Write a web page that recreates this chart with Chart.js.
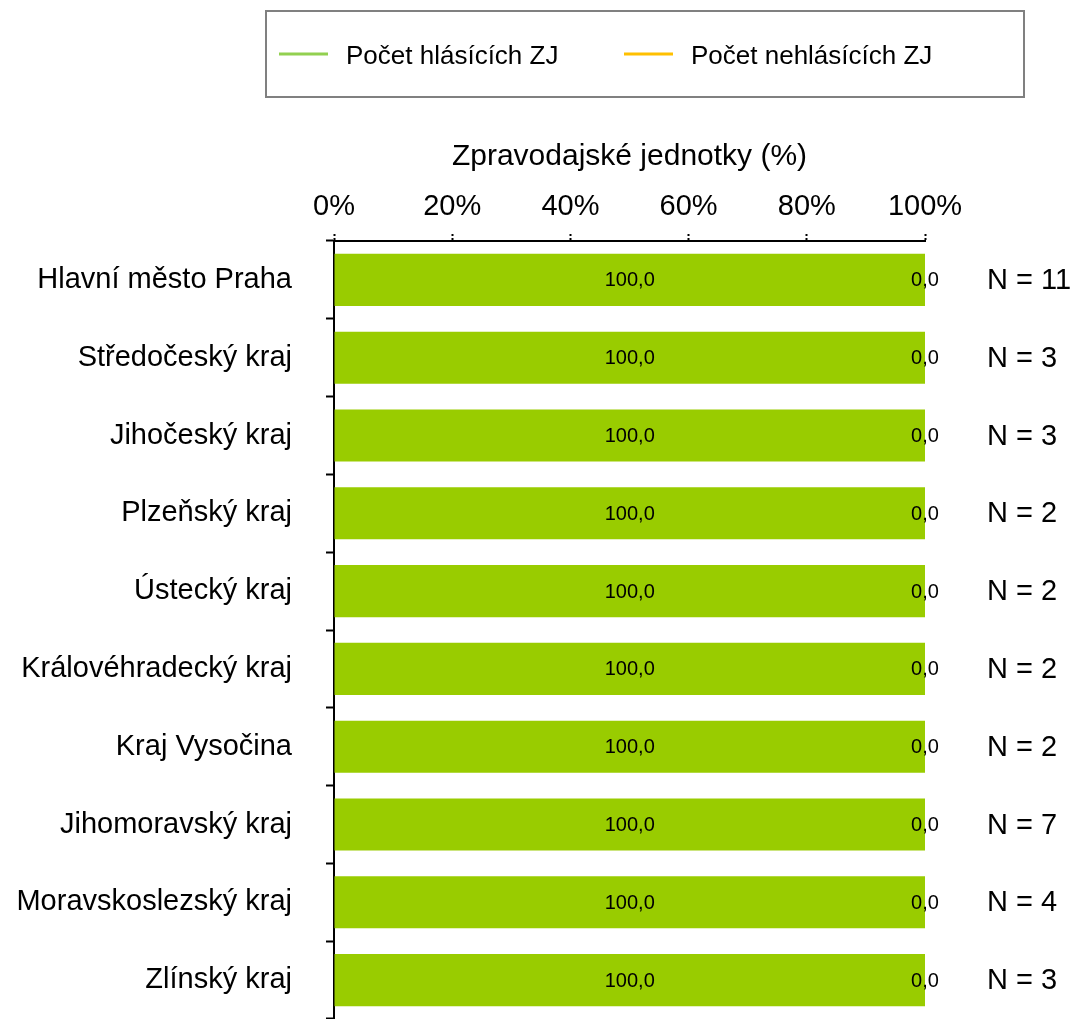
<!DOCTYPE html>
<html>
<head>
<meta charset="utf-8">
<script src="https://cdn.jsdelivr.net/npm/chart.js@4/dist/chart.umd.min.js"></script>
<style>
  body { margin: 0; background: #fff; }
  canvas { display: block; }
</style>
</head>
<body>
<canvas id="myChart" width="1073" height="1019"></canvas>
<script>
// data
const regions = [
    'Hlavní město Praha',
    'Středočeský kraj',
    'Jihočeský kraj',
    'Plzeňský kraj',
    'Ústecký kraj',
    'Královéhradecký kraj',
    'Kraj Vysočina',
    'Jihomoravský kraj',
    'Moravskoslezský kraj',
    'Zlínský kraj'
];
const reporting = [100, 100, 100, 100, 100, 100, 100, 100, 100, 100];
const notReporting = [0, 0, 0, 0, 0, 0, 0, 0, 0, 0];
const nCounts = [11, 3, 3, 2, 2, 2, 2, 7, 4, 3];
const seriesNames = ['Počet hlásících ZJ', 'Počet nehlásících ZJ'];
const axisTitle = 'Zpravodajské jednotky (%)';

const FONT = "'Liberation Sans', Arial, sans-serif";
const barColors = ['#99cc00', '#ffc000'];
const legendColors = ['#92d050', '#ffc000'];

// value labels inside bars (no datalabels plugin offline)
const valueLabels = {
    id: 'valueLabels',
    afterDatasetsDraw(chart) {
        const ctx = chart.ctx;
        ctx.save();
        ctx.font = '20px ' + FONT;
        ctx.fillStyle = '#000';
        ctx.textAlign = 'center';
        ctx.textBaseline = 'middle';
        chart.data.datasets.forEach((ds, di) => {
            const meta = chart.getDatasetMeta(di);
            meta.data.forEach((bar, i) => {
                const x = (bar.x + bar.base) / 2;
                ctx.fillText(ds.data[i].toFixed(1).replace('.', ','), x, bar.y + 1);
            });
        });
        ctx.restore();
    }
};

// "N = x" column on the right
const nLabels = {
    id: 'nLabels',
    afterDraw(chart) {
        const ctx = chart.ctx;
        const yScale = chart.scales.y;
        ctx.save();
        ctx.font = '29px ' + FONT;
        ctx.fillStyle = '#000';
        ctx.textAlign = 'left';
        ctx.textBaseline = 'middle';
        nCounts.forEach((n, i) => {
            ctx.fillText('N = ' + n, chart.chartArea.right + 62, yScale.getPixelForValue(i) + 1);
        });
        ctx.restore();
    }
};

// boxed legend with line symbols
const boxLegend = {
    id: 'boxLegend',
    afterDraw(chart) {
        const ctx = chart.ctx;
        ctx.save();
        ctx.strokeStyle = '#808080';
        ctx.lineWidth = 2;
        ctx.strokeRect(266, 11, 758, 86);
        ctx.font = '26px ' + FONT;
        ctx.textBaseline = 'middle';
        ctx.fillStyle = '#000';
        const starts = [279, 624];
        seriesNames.forEach((name, i) => {
            ctx.strokeStyle = legendColors[i];
            ctx.lineWidth = 3;
            ctx.beginPath();
            ctx.moveTo(starts[i], 54);
            ctx.lineTo(starts[i] + 49, 54);
            ctx.stroke();
            ctx.fillText(name, starts[i] + 67, 57);
        });
        ctx.restore();
    }
};

const ctx = document.getElementById('myChart').getContext('2d');
const chart = new Chart(ctx, {
    type: 'bar',
    data: {
        labels: regions,
        datasets: [{
            label: seriesNames[0],
            data: reporting,
            backgroundColor: barColors[0],
            barPercentage: 0.67,
            categoryPercentage: 1
        }, {
            label: seriesNames[1],
            data: notReporting,
            backgroundColor: barColors[1],
            barPercentage: 0.67,
            categoryPercentage: 1
        }]
    },
    options: {
        indexAxis: 'y',
        responsive: false,
        animation: false,
        layout: { padding: { top: 110, right: 148, left: 0, bottom: 0 } },
        plugins: {
            legend: { display: false },
            tooltip: { enabled: false }
        },
        scales: {
            x: {
                position: 'top',
                stacked: true,
                min: 0,
                max: 100,
                ticks: {
                    stepSize: 20,
                    callback: (v) => v + '%',
                    font: { family: FONT, size: 29 },
                    color: '#000',
                    padding: 10,
                    maxRotation: 0
                },
                title: {
                    display: true,
                    text: axisTitle,
                    font: { family: FONT, size: 30 },
                    color: '#000',
                    padding: { top: 29, bottom: 0 }
                },
                grid: {
                    drawOnChartArea: false,
                    tickLength: 7,
                    tickColor: '#000',
                    tickWidth: 2,
                    tickBorderDash: [2, 2]
                },
                border: { color: '#000', width: 2 },
                afterFit: (scale) => { scale.height = 131; }
            },
            y: {
                stacked: true,
                ticks: {
                    font: { family: FONT, size: 29 },
                    color: '#000',
                    padding: 34
                },
                grid: {
                    drawOnChartArea: false,
                    offset: true,
                    tickLength: 8,
                    tickColor: '#000',
                    tickWidth: 2
                },
                border: { color: '#000', width: 2 },
                afterFit: (scale) => {
                    scale.width = 334;
                    // label padding would otherwise shrink the plot at the bottom
                    scale.paddingTop = 0;
                    scale.paddingBottom = 0;
                }
            }
        }
    },
    plugins: [valueLabels, nLabels, boxLegend]
});
</script>
</body>
</html>
